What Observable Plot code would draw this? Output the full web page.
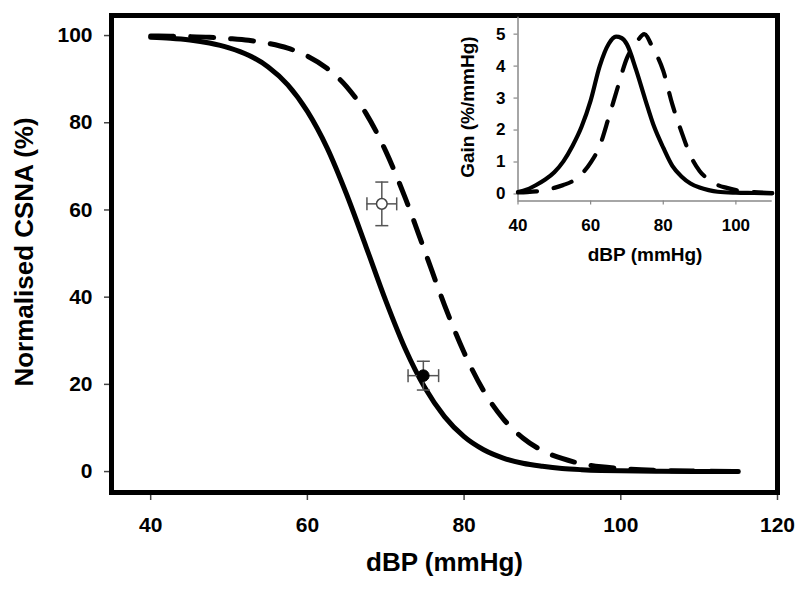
<!DOCTYPE html>
<html><head><meta charset="utf-8">
<script src="https://cdn.jsdelivr.net/npm/d3@7"></script>
<script src="https://cdn.jsdelivr.net/npm/@observablehq/plot@0.6"></script>
<style>
body{margin:0;background:#fff}
#chart{position:relative;width:800px;height:590px}
#chart svg{position:absolute}
</style>
</head><body><div id="chart"></div>
<script>
// ---- main panel data (dBP in mmHg, normalised CSNA in %) ----
const mainDBP = [40,42.5,45,47.5,50,52.5,55,57.5,60,62.5,65,67.5,70,72.5,75,77.5,80,82.5,85,87.5,90,92.5,95,97.5,100,105,110,115];
const solidCSNA = [99.6,99.4,99.0,98.3,97.2,95.5,92.8,88.7,82.6,74.3,63.6,51.5,39.2,28.1,19.2,12.6,8.0,5.0,3.1,1.9,1.2,0.7,0.43,0.26,0.16,0.06,0.02,0.01];
const dashedCSNA = [99.9,99.85,99.76,99.6,99.3,98.9,98.2,97.1,95.3,92.5,88.3,82.1,73.5,62.7,50.5,38.2,27.3,18.5,12.1,7.7,4.8,3.0,1.8,1.1,0.7,0.25,0.09,0.03];

// ---- observed points with SEM ----
const markerGroup = ["open", "filled"];
const markerDBP = [69.5, 74.8];
const markerCSNA = [61.4, 22.0];
const markerDBPErr = [1.9, 1.95];
const markerCSNAErr = [5.0, 3.3];

// ---- inset data (gain, %/mmHg) ----
const solidGainDBP = [40,42.5,45,47.5,50,52.5,55,57.5,60,62.5,65,67,68.5,70,72.5,75,77.5,80,82.5,85,87.5,90,92.5,95,100,105,110];
const solidGain = [0.06,0.14,0.28,0.45,0.68,1.02,1.5,2.1,2.92,4.0,4.7,4.92,4.88,4.68,3.89,2.97,2.1,1.45,0.88,0.55,0.33,0.2,0.12,0.07,0.04,0.03,0.02];
const dashedGainDBP = [40,42.5,45,47.5,50,52.5,55,57.5,60,62.5,65,67.5,70,72.5,74.8,77,80,82.5,85,87.5,90,92.5,95,97.5,100,105,110];
const dashedGain = [0.05,0.06,0.08,0.12,0.19,0.28,0.4,0.62,0.98,1.5,2.4,3.35,4.25,4.72,5.0,4.6,3.85,2.8,1.95,1.2,0.72,0.45,0.28,0.19,0.12,0.06,0.03];

// ---- axes ----
const mainXDomain = [35, 120];
const mainYDomain = [-4.8, 104.6];
const mainXTicks = [40, 60, 80, 100, 120];
const mainYTicks = [0, 20, 40, 60, 80, 100];
const insetXDomain = [40, 110];
const insetYDomain = [-0.22, 5.53];
const insetXTicks = [40, 60, 80, 100];
const insetYTicks = [0, 1, 2, 3, 4, 5];

const xTitle = "dBP (mmHg)";
const yTitle = "Normalised CSNA (%)";
const insetXTitle = "dBP (mmHg)";
const insetYTitle = "Gain (%/mmHg)";

// build tables
const solidMain = mainDBP.map((x, i) => ({x, y: solidCSNA[i]}));
const dashedMain = mainDBP.map((x, i) => ({x, y: dashedCSNA[i]}));
const markers = markerGroup.map((g, i) => ({g, x: markerDBP[i], y: markerCSNA[i], xe: markerDBPErr[i], ye: markerCSNAErr[i]}));
const solidIn = solidGainDBP.map((x, i) => ({x, y: solidGain[i]}));
const dashedIn = dashedGainDBP.map((x, i) => ({x, y: dashedGain[i]}));

const hCap = {draw(ctx, size) { const r = Math.sqrt(size / Math.PI); ctx.moveTo(-r, 0); ctx.lineTo(r, 0); }};
const vCap = {draw(ctx, size) { const r = Math.sqrt(size / Math.PI); ctx.moveTo(0, -r); ctx.lineTo(0, r); }};

const FONT = "'Liberation Sans', Arial, Helvetica, sans-serif";
const errColor = "#555";
const intFmt = d3.format("d");

const main = Plot.plot({
  width: 800, height: 590,
  marginLeft: 111, marginRight: 23, marginTop: 15, marginBottom: 98,
  style: {fontFamily: FONT, fontWeight: "bold", fontSize: "21px", color: "black", background: "transparent"},
  x: {domain: mainXDomain},
  y: {domain: mainYDomain},
  marks: [
    Plot.axisX({ticks: mainXTicks, tickFormat: intFmt, tickSize: 8, tickPadding: 17, stroke: "#444", strokeWidth: 1.5, fill: "black", fontSize: 21, label: null}),
    Plot.axisY({ticks: mainYTicks, tickFormat: intFmt, tickSize: 7, tickPadding: 12, stroke: "#444", strokeWidth: 1.5, fill: "black", fontSize: 21, label: null}),
    Plot.line(solidMain, {x: "x", y: "y", curve: "monotone-x", stroke: "black", strokeWidth: 5, strokeLinecap: "round", strokeLinejoin: "round"}),
    Plot.line(dashedMain, {x: "x", y: "y", curve: "monotone-x", stroke: "black", strokeWidth: 5, strokeDasharray: "23,17", strokeLinecap: "round", strokeLinejoin: "round"}),
    Plot.ruleX(markers, {x: "x", y1: d => d.y - d.ye, y2: d => d.y + d.ye, stroke: errColor, strokeWidth: 1.5}),
    Plot.ruleY(markers, {y: "y", x1: d => d.x - d.xe, x2: d => d.x + d.xe, stroke: errColor, strokeWidth: 1.5}),
    Plot.dot(markers, {x: "x", y: d => d.y + d.ye, symbol: hCap, r: 6.5, stroke: errColor, strokeWidth: 1.5, fill: "none"}),
    Plot.dot(markers, {x: "x", y: d => d.y - d.ye, symbol: hCap, r: 6.5, stroke: errColor, strokeWidth: 1.5, fill: "none"}),
    Plot.dot(markers, {x: d => d.x - d.xe, y: "y", symbol: vCap, r: 6.5, stroke: errColor, strokeWidth: 1.5, fill: "none"}),
    Plot.dot(markers, {x: d => d.x + d.xe, y: "y", symbol: vCap, r: 6.5, stroke: errColor, strokeWidth: 1.5, fill: "none"}),
    Plot.dot(markers, {filter: d => d.g === "open", x: "x", y: "y", r: 5.3, fill: "white", stroke: "#444", strokeWidth: 1.5}),
    Plot.dot(markers, {filter: d => d.g === "filled", x: "x", y: "y", r: 5.8, fill: "black", stroke: "black", strokeWidth: 1}),
    Plot.frame({stroke: "black", strokeWidth: 5}),
    Plot.text([xTitle], {text: d => d, frameAnchor: "bottom", textAnchor: "middle", dy: 78, fontSize: 26, fontWeight: "bold", fill: "black"}),
    Plot.text([yTitle], {text: d => d, frameAnchor: "left", textAnchor: "middle", rotate: -90, dx: -87, dy: -2, fontSize: 26, fontWeight: "bold", fill: "black"})
  ]
});

const inset = Plot.plot({
  width: 345, height: 290,
  marginLeft: 77.5, marginRight: 13.3, marginTop: 16.7, marginBottom: 89.5,
  style: {fontFamily: FONT, fontWeight: "bold", fontSize: "17px", color: "black", background: "transparent"},
  x: {domain: insetXDomain},
  y: {domain: insetYDomain},
  marks: [
    Plot.axisX({ticks: insetXTicks, tickFormat: intFmt, tickSize: 4, tickPadding: 14, stroke: "#888", strokeWidth: 1.2, fill: "black", fontSize: 17, label: null}),
    Plot.axisY({ticks: insetYTicks, tickFormat: intFmt, tickSize: 4, tickPadding: 8.5, stroke: "#888", strokeWidth: 1.2, fill: "black", fontSize: 17, label: null}),
    Plot.ruleY([insetYDomain[0]], {stroke: "#888", strokeWidth: 1.5}),
    Plot.ruleX([insetXDomain[0]], {stroke: "#888", strokeWidth: 1.5}),
    Plot.line(solidIn, {x: "x", y: "y", curve: "monotone-x", stroke: "black", strokeWidth: 4.2, strokeLinecap: "round", strokeLinejoin: "round"}),
    Plot.line(dashedIn, {x: "x", y: "y", curve: "monotone-x", stroke: "black", strokeWidth: 4.2, strokeDasharray: "19,17", strokeLinecap: "round", strokeLinejoin: "round"}),
    Plot.text([insetXTitle], {text: d => d, frameAnchor: "bottom", textAnchor: "middle", dy: 60, fontSize: 19, fontWeight: "bold", fill: "black"}),
    Plot.text([insetYTitle], {text: d => d, frameAnchor: "left", textAnchor: "middle", rotate: -90, dx: -50.5, dy: -2, fontSize: 19, fontWeight: "bold", fill: "black"})
  ]
});

const root = document.getElementById("chart");
main.style.left = "0px"; main.style.top = "0px";
inset.style.left = "440px"; inset.style.top = "0px";
root.appendChild(main);
root.appendChild(inset);
</script></body></html>
